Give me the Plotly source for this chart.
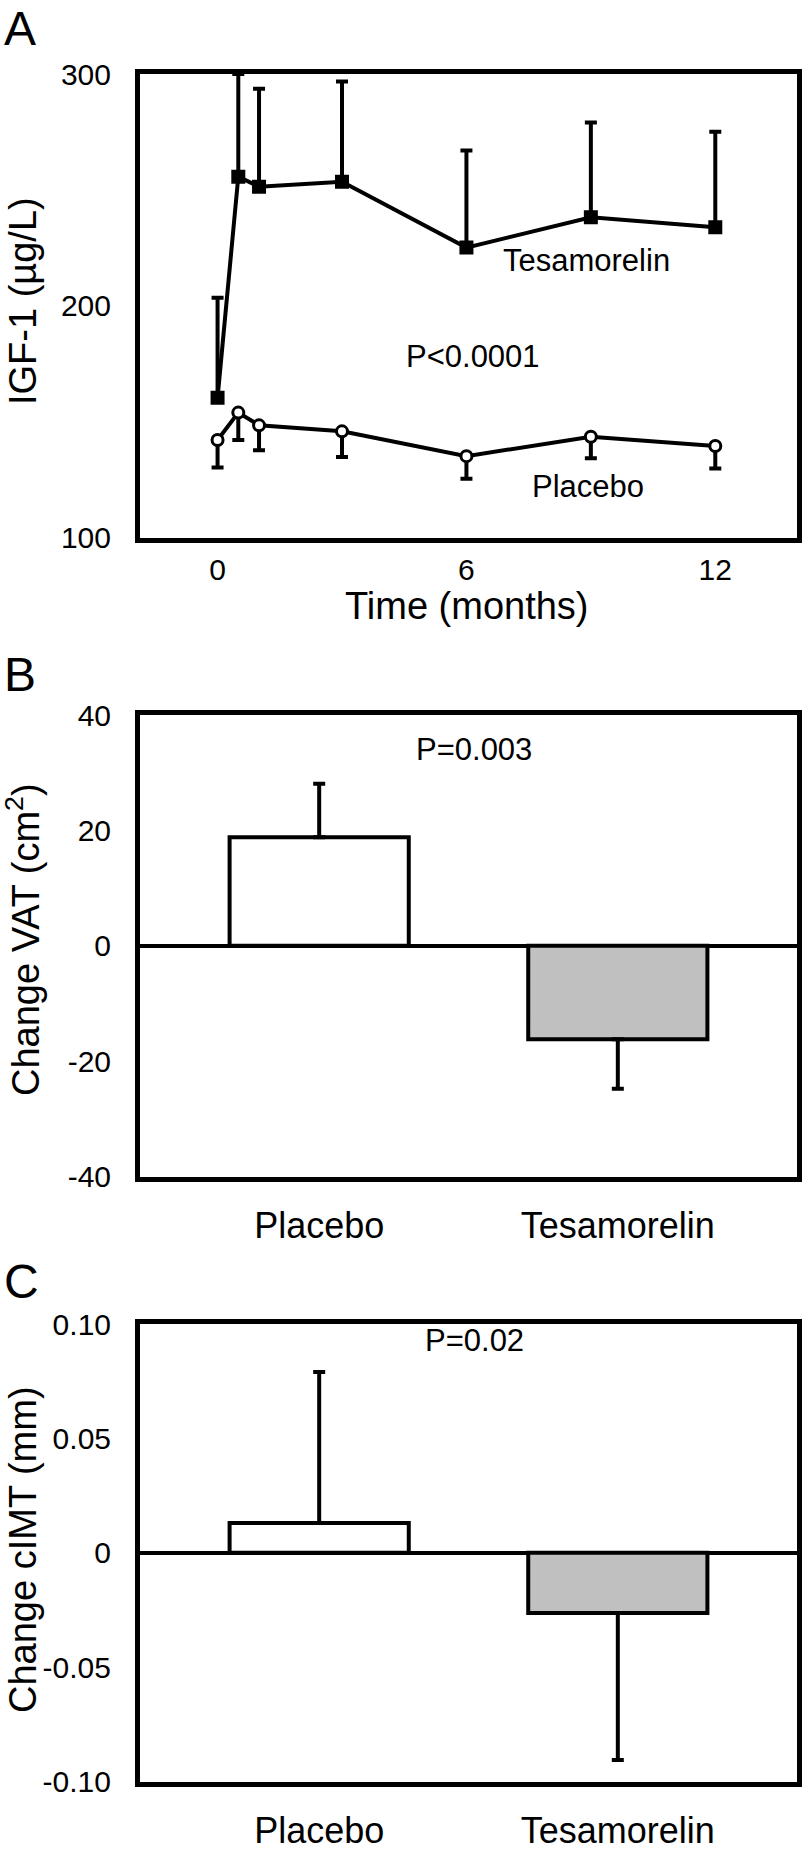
import plotly.graph_objects as go

# ---------------- data ----------------
months = [0, 0.5, 1, 3, 6, 9, 12]
tesa_igf = [160.3, 255.7, 251.4, 253.5, 225.1, 238.2, 233.9]
tesa_igf_se = [43.2, 44.3, 42.2, 43.3, 41.9, 40.9, 41.2]
plac_igf = [142.1, 153.9, 148.4, 145.8, 135.1, 143.5, 139.5]
plac_igf_se = [11.9, 11.8, 10.7, 11.1, 9.7, 9.3, 9.7]

groups = ["Placebo", "Tesamorelin"]
vat_change = [18.8, -16.2]
vat_se_up = [9.3, 0]
vat_se_down = [0, 8.6]
cimt_change = [0.013, -0.0263]
cimt_se_up = [0.066, 0]
cimt_se_down = [0, 0.0643]

igf_ticks = [100, 200, 300]
month_ticks = [0, 6, 12]
vat_ticks = [-40, -20, 0, 20, 40]
vat_ticktext = ["-40", "-20", "0", "20", "40"]
cimt_ticks = [-0.10, -0.05, 0, 0.05, 0.10]
cimt_ticktext = ["-0.10", "-0.05", "0", "0.05", "0.10"]
bar_colors = ["white", "#c0c0c0"]

# ---------------- layout helpers ----------------
W, H = 802, 1851
FONT = "Liberation Sans, Arial, Helvetica, sans-serif"


def fy(y):
    return 1 - y / H


xdom = [140 / W, 797 / W]
domA = [fy(537.5), fy(74)]
domB = [fy(1176.5), fy(715)]
domC = [fy(1781.5), fy(1324)]

fig = go.Figure()

# Panel A
fig.add_trace(go.Scatter(
    x=months, y=plac_igf, mode="lines+markers", xaxis="x", yaxis="y",
    line=dict(color="black", width=4),
    marker=dict(symbol="circle", size=11, color="white", line=dict(color="black", width=3)),
    error_y=dict(type="data", symmetric=False, array=[0] * len(months), arrayminus=plac_igf_se,
                 color="black", thickness=4, width=6),
    showlegend=False))
fig.add_trace(go.Scatter(
    x=months, y=tesa_igf, mode="lines+markers", xaxis="x", yaxis="y",
    line=dict(color="black", width=4),
    marker=dict(symbol="square", size=14, color="black"),
    error_y=dict(type="data", symmetric=False, array=tesa_igf_se, arrayminus=[0] * len(months),
                 color="black", thickness=4, width=6),
    showlegend=False))

# Panel B
fig.add_trace(go.Bar(
    x=groups, y=vat_change, xaxis="x2", yaxis="y2", width=0.6,
    marker=dict(color=bar_colors, line=dict(color="black", width=4)),
    error_y=dict(type="data", symmetric=False, array=vat_se_up, arrayminus=vat_se_down,
                 color="black", thickness=4, width=6),
    showlegend=False))

# Panel C
fig.add_trace(go.Bar(
    x=groups, y=cimt_change, xaxis="x3", yaxis="y3", width=0.6,
    marker=dict(color=bar_colors, line=dict(color="black", width=4)),
    error_y=dict(type="data", symmetric=False, array=cimt_se_up, arrayminus=cimt_se_down,
                 color="black", thickness=4, width=6),
    showlegend=False))

TICKFONT = dict(family=FONT, size=30, color="black")
CATFONT = dict(family=FONT, size=36, color="black")
axis_common = dict(showline=True, mirror=True, linewidth=5, linecolor="black",
                   showgrid=False, automargin=False, ticks="outside",
                   tickcolor="rgba(0,0,0,0)")

fig.update_layout(
    width=W, height=H, margin=dict(l=0, r=0, t=0, b=0),
    paper_bgcolor="white", plot_bgcolor="white",
    font=dict(family=FONT, color="black"),
    xaxis=dict(domain=xdom, anchor="y", range=[-1.87, 13.97], tickvals=month_ticks,
               zeroline=False, ticklen=1, tickfont=TICKFONT, **axis_common),
    yaxis=dict(domain=domA, anchor="x", range=[100, 300], tickvals=igf_ticks,
               zeroline=False, ticklen=18, tickfont=TICKFONT, **axis_common),
    xaxis2=dict(domain=xdom, anchor="y2", range=[-0.6, 1.6], ticklen=13,
                zeroline=False, tickfont=CATFONT, **axis_common),
    yaxis2=dict(domain=domB, anchor="x2", range=[-40, 40], tickvals=vat_ticks,
                ticktext=vat_ticktext, zeroline=True, zerolinewidth=4, zerolinecolor="black",
                ticklen=18, tickfont=TICKFONT, **axis_common),
    xaxis3=dict(domain=xdom, anchor="y3", range=[-0.6, 1.6], ticklen=13,
                zeroline=False, tickfont=CATFONT, **axis_common),
    yaxis3=dict(domain=domC, anchor="x3", range=[-0.1, 0.1], tickvals=cimt_ticks,
                ticktext=cimt_ticktext, zeroline=True, zerolinewidth=4, zerolinecolor="black",
                ticklen=18, tickfont=TICKFONT, **axis_common),
)

ann = []
# panel letters
for letter, yc in [("A", 29), ("B", 674.5), ("C", 1281)]:
    ann.append(dict(text=letter, xref="paper", yref="paper", x=2 / W, y=fy(yc),
                    xanchor="left", yanchor="middle", showarrow=False,
                    font=dict(family=FONT, size=48, color="black")))
# axis titles
TITLEFONT = dict(family=FONT, size=38, color="black")
ann.append(dict(text="IGF-1 (µg/L)", xref="paper", yref="paper", x=23 / W, y=fy(301),
                textangle=-90, xanchor="center", yanchor="middle", showarrow=False,
                font=TITLEFONT))
ann.append(dict(text="Time (months)", xref="paper", yref="paper", x=467 / W, y=fy(606),
                xanchor="center", yanchor="middle", showarrow=False, font=TITLEFONT))
ann.append(dict(text="Change VAT (cm<sup>2</sup>)", xref="paper", yref="paper", x=23 / W, y=fy(940),
                textangle=-90, xanchor="center", yanchor="middle", showarrow=False,
                font=TITLEFONT))
ann.append(dict(text="Change cIMT (mm)", xref="paper", yref="paper", x=23 / W, y=fy(1550),
                textangle=-90, xanchor="center", yanchor="middle", showarrow=False,
                font=TITLEFONT))
# in-plot labels
LABFONT = dict(family=FONT, size=31, color="black")
ann.append(dict(text="Tesamorelin", xref="x", yref="y", x=8.9, y=219.7, showarrow=False, font=LABFONT))
ann.append(dict(text="P<0.0001", xref="x", yref="y", x=6.17, y=177.9, showarrow=False, font=LABFONT))
ann.append(dict(text="Placebo", xref="x", yref="y", x=8.94, y=122.2, showarrow=False, font=LABFONT))
ann.append(dict(text="P=0.003", xref="paper", yref="paper", x=474 / W, y=fy(750), showarrow=False,
                font=LABFONT))
ann.append(dict(text="P=0.02", xref="paper", yref="paper", x=474 / W, y=fy(1360), showarrow=False,
                font=LABFONT))
fig.update_layout(annotations=ann)

fig.write_html("out.html", config={"displayModeBar": False},
               post_script="document.body.style.margin='0';document.body.style.padding='0';"
                           "document.documentElement.style.overflow='hidden';")
